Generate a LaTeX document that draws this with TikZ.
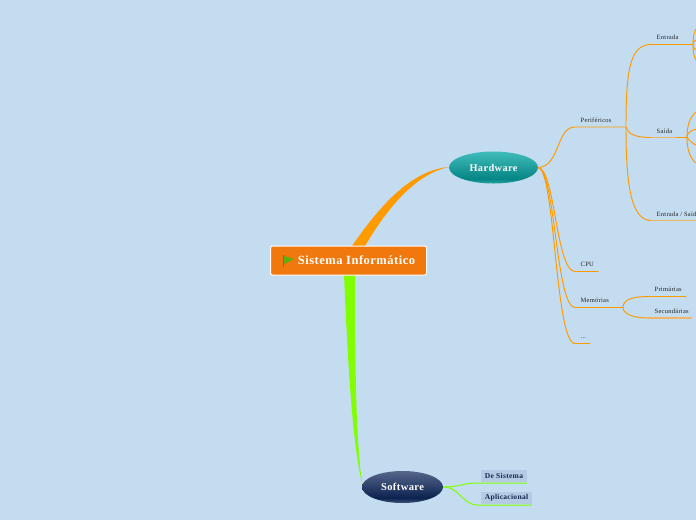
\documentclass[tikz,border=0pt]{standalone}
\usepackage{fontspec}
\setmainfont[LetterSpace=4]{Liberation Serif}
\usetikzlibrary{positioning,shapes.geometric,calc}
\definecolor{backblue}{HTML}{C3DCF0}
\definecolor{linkor}{HTML}{FF9A00}
\definecolor{linkpale}{HTML}{EDB565}
\definecolor{linkgr}{HTML}{80FF00}
\definecolor{rootor}{HTML}{F0780C}
\definecolor{tealdk}{HTML}{068585}
\definecolor{teallt}{HTML}{40BDBA}
\definecolor{navydk}{HTML}{0C2350}
\definecolor{navylt}{HTML}{56668A}
\definecolor{labelbg}{HTML}{B3CBE3}
\definecolor{labeltxt}{HTML}{14284F}
\definecolor{flaggr}{HTML}{5FAF10}
\pgfdeclareverticalshading{tealfill}{100bp}{color(0bp)=(teallt); color(25bp)=(teallt!60!tealdk);
  color(32bp)=(tealdk); color(75bp)=(teallt); color(100bp)=(teallt)}
\pgfdeclareverticalshading{navyfill}{100bp}{color(0bp)=(navylt); color(25bp)=(navylt!70!navydk);
  color(33bp)=(navydk); color(75bp)=(navylt); color(100bp)=(navylt)}
\tikzset{
  rootbox/.style ={rounded corners=2pt,draw=white,line width=1pt,fill=rootor,text=white,
                   minimum width=156pt,minimum height=29pt,font=\fontsize{12.5}{14}\selectfont\bfseries},
  teal/.style    ={ellipse,shade,shading=tealfill,text=white,inner sep=0pt,
                   minimum width=89pt,minimum height=32pt,font=\fontsize{10.3}{12}\selectfont\bfseries},
  navy/.style    ={ellipse,shade,shading=navyfill,text=white,inner sep=0pt,
                   minimum width=81pt,minimum height=32pt,font=\fontsize{10.5}{12}\selectfont\bfseries},
  leaf/.style    ={inner sep=0pt,text=black!85,font=\fontsize{6.5}{8}\selectfont},
  softleaf/.style={inner sep=0pt,fill=labelbg,text=labeltxt,minimum height=12pt,
                   font=\fontsize{7.5}{9}\selectfont\bfseries},
  link/.style    ={draw=linkor,line width=0.95pt},
  palelink/.style={draw=linkpale,line width=1.8pt},
  glink/.style   ={draw=linkgr,line width=1pt}
}
\begin{document}
\begin{tikzpicture}[x=1pt,y=-1pt]
  \useasboundingbox[fill=backblue] (0,0) rectangle (696,520);
  % thick branches
  \fill[linkor] (352,246) .. controls (385,198) and (415,170) .. (449,167)
    .. controls (420,173) and (392,200) .. (365,246) -- cycle;
  \fill[linkgr] (344,274) -- (355,274) .. controls (355,370) and (356,450) .. (363,487)
    .. controls (353,450) and (348,370) .. (344,274) -- cycle;
  % ellipses
  \node[rootbox] (root) at (348.5,260.5) {\raisebox{-1pt}{\hspace{16pt}Sistema Informático}};
  \fill[flaggr] (284,256) -- (294,259) -- (284,264) -- cycle;
  \draw[rootor!75!black,line width=0.8pt] (283,255) -- (283,267);
  \node[teal] (hardware) at (493.5,167.5) {Hardware};
  \node[navy] (software) at (402.5,487) {\raisebox{-1pt}{Software}};
  % hardware labels
  \node[leaf,anchor=south west] (perifericos) at (580.5,123) {Periféricos};
  \node[leaf,anchor=south west] (cpu) at (580.5,267) {CPU};
  \node[leaf,anchor=south west] (memorias) at (580.5,303) {Memórias};
  \node[leaf,anchor=south west] (more) at (580.5,339) {...};
  \node[leaf,anchor=south west] (entrada) at (656.5,39.5) {Entrada};
  \node[leaf,anchor=south west] (saida) at (656.5,134) {Saída};
  \node[leaf,anchor=south west] (entsaida) at (656.5,217) {Entrada / Saída};
  \node[leaf,anchor=south west] (primarias) at (654.5,291.5) {Primárias};
  \node[leaf,anchor=south west] (secundarias) at (654.5,313.5) {Secundárias};
  % hardware connectors
  \coordinate (hwout) at (538,167.5);
  \coordinate (perend) at (626,127);
  \coordinate (perl) at (575,127);
  \coordinate (cpul) at (575,271.5);
  \coordinate (meml) at (575,307.5);
  \coordinate (morel) at (575,343.5);
  \draw[link] (hwout) .. controls (560,167) and (556,127) .. (perl) -- (perend);
  \draw[link] (hwout) .. controls (555,168) and (556,271.5) .. (cpul) -- (598.5,271.5);
  \draw[link] (hwout) .. controls (555,168) and (556,307.5) .. (meml) -- (623,307.5);
  \draw[link] (hwout) .. controls (555,168) and (555,343.5) .. (morel) -- (590,343.5);
  \draw[link] (perend) .. controls (626,70) and (630,44.5) .. (651,44.5) -- (693,44.5);
  \draw[link] (perend) .. controls (628,134) and (635,137.5) .. (651,137.5);
  \draw[palelink] (651,137.5) -- (676,137.5);
  \draw[link,line width=1.8pt] (676,137.5) -- (687,137.5);
  \draw[link] (perend) .. controls (626,180) and (630,220.5) .. (651,220.5);
  \draw[palelink] (651,220.5) -- (696,220.5);
  \draw[link] (623,307.5) .. controls (623,298) and (636,296.5) .. (650,296.5) -- (686,296.5);
  \draw[link] (623,307.5) .. controls (623,314) and (634,318) .. (648,318);
  \draw[palelink] (648,318) -- (692,318);
  % right edge sub branches
  \draw[link] (693,44.5) .. controls (693,38) and (694,32) .. (696,29);
  \draw[link] (693,44.5) .. controls (693,42) and (694,41) .. (696,40);
  \draw[link] (693,44.5) .. controls (693,47) and (694,49) .. (696,50);
  \draw[link] (693,44.5) .. controls (693,52) and (694,57) .. (696,60);
  \draw[link] (687,137.5) .. controls (687,125) and (690,117) .. (696,112);
  \draw[link] (687,137.5) .. controls (687,133) and (690,131) .. (696,129);
  \draw[link] (687,137.5) .. controls (690,141) and (693,144) .. (696,145);
  \draw[link] (687,137.5) .. controls (687,150) and (690,158) .. (696,163);
  % software
  \node[softleaf,minimum width=46pt] (desistema) at (504,475.5) {De Sistema};
  \node[softleaf,minimum width=51pt] (aplicacional) at (506.5,497.5) {Aplicacional};
  \draw[glink] (software.east) .. controls (460,487) and (462,483) .. (478,483) -- (527,483);
  \draw[glink] (software.east) .. controls (460,487) and (462,505) .. (478,505) -- (532,505);
\end{tikzpicture}
\end{document}
